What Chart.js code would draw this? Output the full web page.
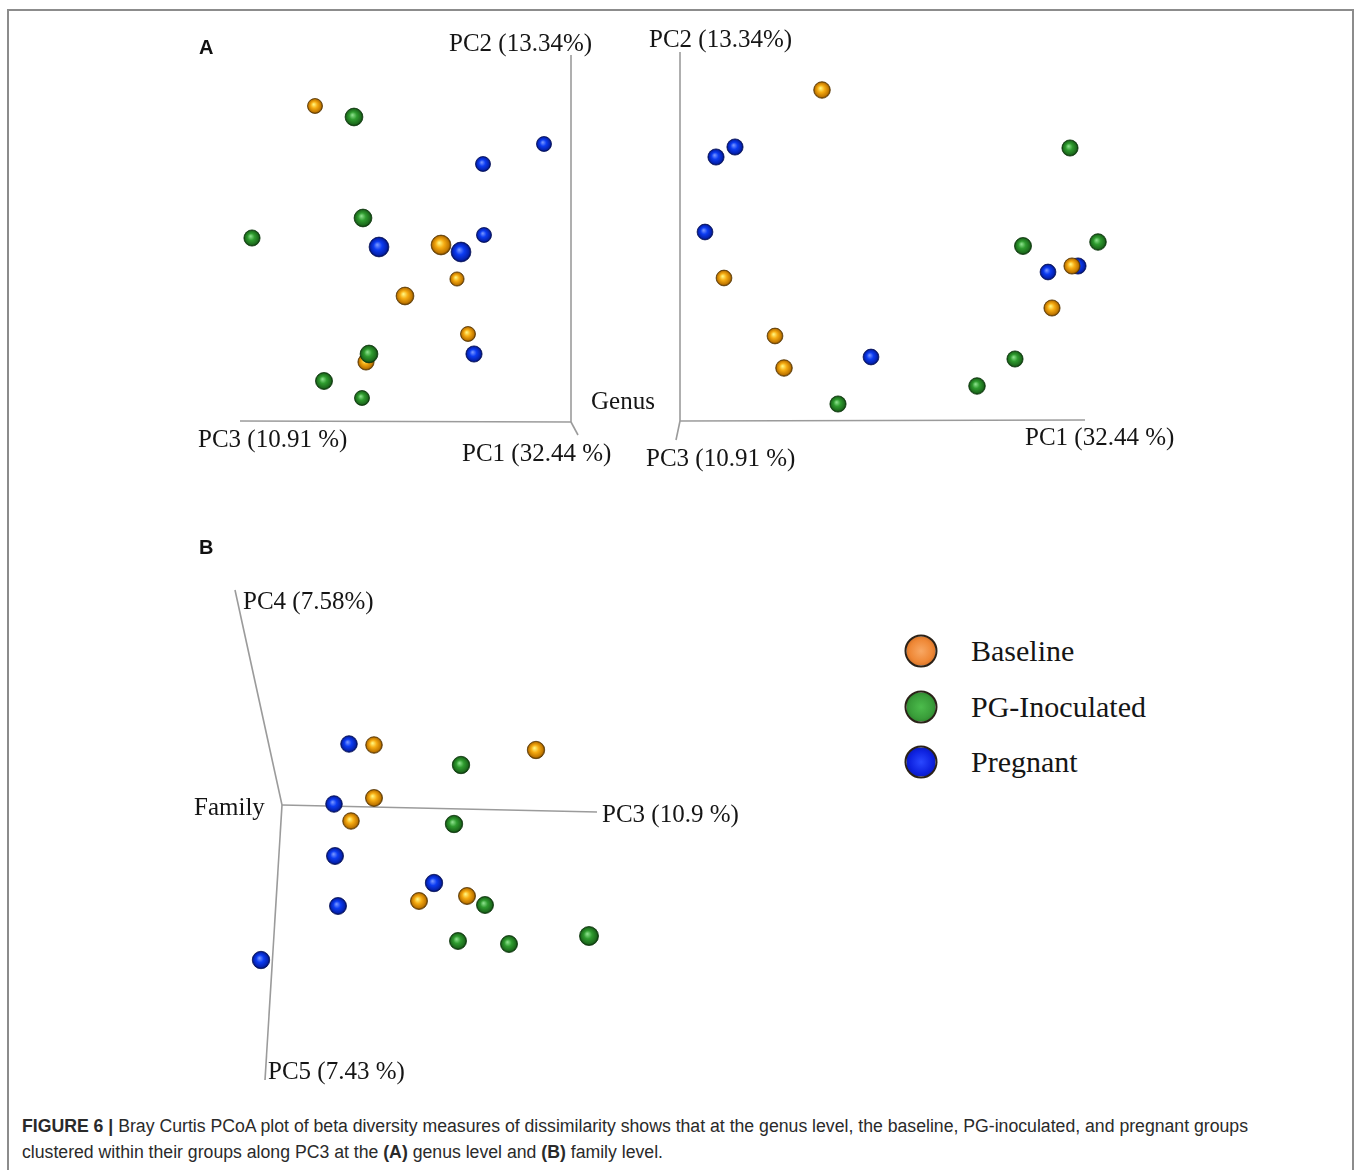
<!DOCTYPE html>
<html>
<head>
<meta charset="utf-8">
<script src="https://cdn.jsdelivr.net/npm/chart.js@4/dist/chart.umd.min.js"></script>
<style>
  html, body { margin: 0; padding: 0; background: #fff; }
  #page { position: relative; width: 1360px; height: 1170px; overflow: hidden; }
  #frame { position: absolute; left: 7px; top: 9px; width: 1347px; height: 1170px;
           border: 2px solid #8c8c8c; border-bottom: none; box-sizing: border-box; }
  canvas { position: absolute; }
  .lbl { position: absolute; white-space: nowrap; line-height: 1; transform: translateY(-50%);
         font-family: "Liberation Serif", "DejaVu Serif", serif; color: #151515; font-size: 25px; }
  .tag { position: absolute; line-height: 1; transform: translateY(-50%);
         font-family: "Liberation Sans", Arial, sans-serif; font-weight: bold; font-size: 20px; color: #111; }
  .key { position: absolute; width: 33px; height: 33px; border-radius: 50%; box-sizing: border-box;
         border: 2px solid #2b2218; transform: translate(-50%, -50%); }
  .keytxt { font-size: 30px; }
  .cap { position: absolute; left: 22px; white-space: nowrap; line-height: 1; transform-origin: 0 50%;
         font-family: "Liberation Sans", Arial, sans-serif; font-size: 18px; color: #2a2a2a; }
</style>
</head>
<body>
<div id="page">
  <div id="frame"></div>

  <canvas id="genusLeft"></canvas>
  <canvas id="genusRight"></canvas>
  <canvas id="family"></canvas>

  <div class="tag" style="left:199px; top:47px">A</div>
  <div class="tag" style="left:199px; top:547px">B</div>

  <div class="lbl" id="gL_pc2" style="left:449px; top:42px"></div>
  <div class="lbl" id="gL_pc3" style="left:198px; top:438px"></div>
  <div class="lbl" id="gL_pc1" style="left:462px; top:452px"></div>
  <div class="lbl" id="gL_name" style="left:591px; top:400px"></div>

  <div class="lbl" id="gR_pc2" style="left:649px; top:38px"></div>
  <div class="lbl" id="gR_pc1" style="left:1025px; top:436px"></div>
  <div class="lbl" id="gR_pc3" style="left:646px; top:457px"></div>

  <div class="lbl" id="f_pc4" style="left:243px; top:600px"></div>
  <div class="lbl" id="f_name" style="left:194px; top:806px"></div>
  <div class="lbl" id="f_pc3" style="left:602px; top:813px"></div>
  <div class="lbl" id="f_pc5" style="left:268px; top:1070px"></div>

  <div class="key" id="key0" style="left:921px; top:651px"></div>
  <div class="key" id="key1" style="left:921px; top:707px"></div>
  <div class="key" id="key2" style="left:921px; top:762px"></div>
  <div class="lbl keytxt" id="keytxt0" style="left:971px; top:651px"></div>
  <div class="lbl keytxt" id="keytxt1" style="left:971px; top:707px"></div>
  <div class="lbl keytxt" id="keytxt2" style="left:971px; top:762px"></div>

  <div class="cap" id="cap1" style="top:1126px"><b>FIGURE 6 |</b> Bray Curtis PCoA plot of beta diversity measures of dissimilarity shows that at the genus level, the baseline, PG-inoculated, and pregnant groups</div>
  <div class="cap" id="cap2" style="top:1152px">clustered within their groups along PC3 at the <b>(A)</b> genus level and <b>(B)</b> family level.</div>
</div>

<script>
// ---- groups and axis titles ----
const groupNames = ['Baseline', 'PG-Inoculated', 'Pregnant'];
const genusAxisTitles = ['PC1 (32.44 %)', 'PC2 (13.34%)', 'PC3 (10.91 %)'];
const familyAxisTitles = ['PC3 (10.9 %)', 'PC4 (7.58%)', 'PC5 (7.43 %)'];
const genusName = 'Genus';
const familyName = 'Family';

// ---- genus level, view onto PC2 / PC3 : [screen x, screen y, depth] ----
const genusSideBaseline = [[-2.56, 3.16, 0.25], [-1.30, 1.77, 0.85], [-1.14, 1.43, 0.15],
                           [-1.66, 1.26, 0.60], [-1.03, 0.88, 0.25], [-2.05, 0.60, 0.40]];
const genusSideInoculated = [[-2.17, 3.05, 0.60], [-2.08, 2.04, 0.60], [-3.19, 1.84, 0.40],
                             [-2.02, 0.68, 0.60], [-2.47, 0.41, 0.50], [-2.09, 0.24, 0.25]];
const genusSidePregnant = [[-0.27, 2.78, 0.25], [-0.88, 2.58, 0.25], [-1.92, 1.75, 0.85],
                           [-1.10, 1.70, 0.85], [-0.87, 1.87, 0.25], [-0.97, 0.68, 0.40]];

// ---- genus level, view onto PC1 / PC2 ----
const genusFrontBaseline = [[1.42, 3.31, 0.45], [0.44, 1.43, 0.35], [0.95, 0.85, 0.35],
                            [1.04, 0.53, 0.45], [3.92, 1.55, 0.40], [3.72, 1.13, 0.40]];
const genusFrontInoculated = [[3.90, 2.73, 0.40], [3.43, 1.75, 0.50], [4.18, 1.79, 0.45],
                              [3.35, 0.62, 0.40], [2.97, 0.35, 0.45], [1.58, 0.17, 0.40]];
const genusFrontPregnant = [[0.36, 2.64, 0.40], [0.55, 2.74, 0.40], [0.25, 1.89, 0.35],
                            [3.68, 1.49, 0.35], [3.98, 1.55, 0.40], [1.91, 0.64, 0.35]];

// ---- family level, PC3 / PC4 / PC5 ----
const familyBaseline = [[0.92, 0.60, 0.45], [2.54, 0.55, 0.55], [0.92, 0.07, 0.50],
                        [0.69, -0.16, 0.45], [1.37, -0.96, 0.50], [1.85, -0.91, 0.50]];
const familyInoculated = [[1.79, 0.40, 0.55], [1.72, -0.19, 0.55], [2.03, -1.00, 0.50],
                          [1.76, -1.36, 0.50], [2.27, -1.39, 0.50], [3.07, -1.31, 0.75]];
const familyPregnant = [[0.67, 0.61, 0.45], [0.52, 0.01, 0.45], [0.53, -0.51, 0.50],
                        [0.56, -1.01, 0.50], [1.52, -0.78, 0.55], [-0.21, -1.55, 0.55]];

// ---- projected axis directions (end points of the drawn axes) ----
const genusSideAxes = [[0.07, -0.13], [0, 3.67], [-3.31, 0.01]];
const genusFrontAxes = [[4.05, 0.01], [0, 3.69], [-0.04, -0.19]];
const familyAxes = [[3.15, -0.07], [-0.47, 2.15], [-0.17, -2.75]];

// ---- look ----
const sphereColors = [
  { hi: '#fff27a', body: '#f6ac12', dark: '#c27800', rim: '#5c3800' },
  { hi: '#86dc86', body: '#2f9c2f', dark: '#1d6c1d', rim: '#0b360b' },
  { hi: '#7090ff', body: '#0c3cf2', dark: '#0522b0', rim: '#020f5a' }
];
const keyColors = [
  ['#f8a864', '#ef8836', '#b3581a'],
  ['#4cbc4c', '#3a9e3a', '#226c22'],
  ['#2a48ff', '#0e22e0', '#08128c']
];
const axisColor = '#9b9b9b';
const PX = 100; // pixels per projected unit

function radiusOf(p) { return 6.5 + 4 * p.z; }

function toPoints(arr) { return arr.map(v => ({ x: v[0], y: v[1], z: v[2] })); }

function sphereFill(c) {
  return (ctx) => {
    const chart = ctx.chart;
    if (ctx.type !== 'data' || !ctx.parsed || !chart.scales.x || !chart.chartArea) return c.body;
    const x = chart.scales.x.getPixelForValue(ctx.parsed.x);
    const y = chart.scales.y.getPixelForValue(ctx.parsed.y);
    const r = radiusOf(ctx.raw);
    const g = chart.ctx.createRadialGradient(x - 0.18 * r, y - 0.22 * r, 0.05 * r, x, y, r);
    g.addColorStop(0, c.hi);
    g.addColorStop(0.4, c.body);
    g.addColorStop(0.82, c.dark);
    g.addColorStop(1, c.rim);
    return g;
  };
}

function sphereSet(label, arr, gi, order) {
  return {
    type: 'scatter', label, data: toPoints(arr), order,
    pointRadius: (ctx) => ctx.raw ? radiusOf(ctx.raw) : 7,
    backgroundColor: sphereFill(sphereColors[gi]),
    borderColor: sphereColors[gi].rim,
    borderWidth: 0.8,
    clip: false
  };
}

function axisSet(end) {
  return {
    type: 'line', data: [{ x: 0, y: 0 }, { x: end[0], y: end[1] }],
    borderColor: axisColor, borderWidth: 1.6, pointRadius: 0, showLine: true,
    fill: false, tension: 0, order: 10, clip: false
  };
}

// rect: page box of the canvas; origin: page position of the axes' meeting point
function makePanel(id, rect, origin, axes, sets) {
  const cv = document.getElementById(id);
  cv.width = rect.w; cv.height = rect.h;
  cv.style.left = rect.l + 'px'; cv.style.top = rect.t + 'px';
  cv.style.width = rect.w + 'px'; cv.style.height = rect.h + 'px';
  const datasets = axes.map(axisSet).concat(sets);
  return new Chart(cv, {
    type: 'scatter',
    data: { datasets },
    options: {
      responsive: false, animation: false, events: [],
      layout: { padding: 0, autoPadding: false },
      plugins: { legend: { display: false }, tooltip: { enabled: false } },
      scales: {
        x: { type: 'linear', display: false,
             min: (rect.l - origin.x) / PX, max: (rect.l + rect.w - origin.x) / PX },
        y: { type: 'linear', display: false,
             min: (origin.y - rect.t - rect.h) / PX, max: (origin.y - rect.t) / PX }
      }
    }
  });
}

makePanel('genusLeft', { l: 180, t: 40, w: 440, h: 420 }, { x: 571, y: 422 }, genusSideAxes, [
  sphereSet(groupNames[0], genusSideBaseline, 0, 3),
  sphereSet(groupNames[1], genusSideInoculated, 1, 2),
  sphereSet(groupNames[2], genusSidePregnant, 2, 1)
]);

makePanel('genusRight', { l: 640, t: 40, w: 500, h: 420 }, { x: 680, y: 421 }, genusFrontAxes, [
  sphereSet(groupNames[2], genusFrontPregnant, 2, 3),
  sphereSet(groupNames[0], genusFrontBaseline, 0, 2),
  sphereSet(groupNames[1], genusFrontInoculated, 1, 1)
]);

makePanel('family', { l: 200, t: 570, w: 440, h: 530 }, { x: 282, y: 805 }, familyAxes, [
  sphereSet(groupNames[0], familyBaseline, 0, 3),
  sphereSet(groupNames[1], familyInoculated, 1, 2),
  sphereSet(groupNames[2], familyPregnant, 2, 1)
]);

// axis titles
const setText = (id, t) => { document.getElementById(id).textContent = t; };
setText('gL_pc1', genusAxisTitles[0]); setText('gL_pc2', genusAxisTitles[1]);
setText('gL_pc3', genusAxisTitles[2]); setText('gL_name', genusName);
setText('gR_pc1', genusAxisTitles[0]); setText('gR_pc2', genusAxisTitles[1]);
setText('gR_pc3', genusAxisTitles[2]);
setText('f_pc3', familyAxisTitles[0]); setText('f_pc4', familyAxisTitles[1]);
setText('f_pc5', familyAxisTitles[2]); setText('f_name', familyName);

// legend
groupNames.forEach((g, i) => {
  setText('keytxt' + i, g);
  const k = keyColors[i];
  document.getElementById('key' + i).style.background =
    `radial-gradient(circle at 50% 50%, ${k[0]} 0%, ${k[1]} 55%, ${k[2]} 100%)`;
});

// caption: condense to the column width
(function fitCaption() {
  const c1 = document.getElementById('cap1');
  const c2 = document.getElementById('cap2');
  const w = c1.getBoundingClientRect().width;
  const k = 1226 / w;
  c1.style.transform = `translateY(-50%) scaleX(${k})`;
  c2.style.transform = `translateY(-50%) scaleX(${k})`;
})();
</script>
</body>
</html>
